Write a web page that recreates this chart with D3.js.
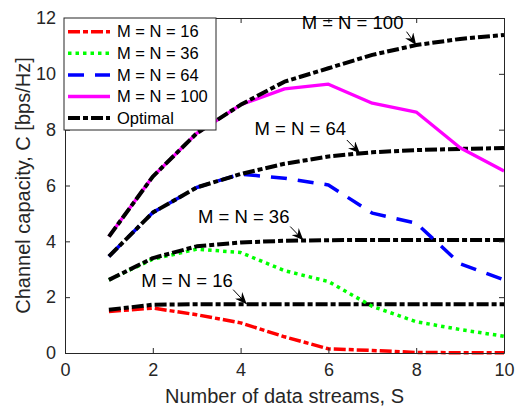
<!DOCTYPE html>
<html>
<head>
<meta charset="utf-8">
<script src="https://cdn.jsdelivr.net/npm/d3@7"></script>
<style>
  body { margin: 0; background: #fff; }
  svg { font-family: "Liberation Sans", Arial, sans-serif; }
</style>
</head>
<body>
<div id="chart"></div>
<script>
// data
const streams = [1, 2, 3, 4, 5, 6, 7, 8, 9, 10];
const cap16 = [1.49, 1.61, 1.37, 1.08, 0.58, 0.15, 0.09, 0.02, 0.01, 0.01];
const cap36 = [2.62, 3.36, 3.72, 3.60, 2.95, 2.56, 1.67, 1.12, 0.84, 0.60];
const cap64 = [3.46, 5.03, 5.93, 6.41, 6.26, 6.02, 5.01, 4.65, 3.20, 2.62];
const cap100 = [4.17, 6.32, 7.87, 8.89, 9.46, 9.63, 8.95, 8.63, 7.35, 6.52];
const opt16 = [1.55, 1.73, 1.75, 1.75, 1.75, 1.75, 1.75, 1.75, 1.75, 1.75];
const opt36 = [2.62, 3.40, 3.82, 3.96, 4.02, 4.04, 4.05, 4.05, 4.05, 4.05];
const opt64 = [3.46, 5.03, 5.93, 6.41, 6.78, 7.04, 7.19, 7.27, 7.31, 7.34];
const opt100 = [4.17, 6.32, 7.87, 8.89, 9.72, 10.20, 10.68, 11.03, 11.25, 11.39];
const xTicks = [0, 2, 4, 6, 8, 10];
const yTicks = [0, 2, 4, 6, 8, 10, 12];
const legendLabels = ['M = N = 16', 'M = N = 36', 'M = N = 64', 'M = N = 100', 'Optimal'];
// annotation text and arrows, in data units
const noteLabels = ['M = N = 100', 'M = N = 64', 'M = N = 36', 'M = N = 16'];
const noteText = [[6.55, 11.61], [5.36, 7.82], [4.07, 4.65], [2.78, 2.36]];
const noteTail = [[7.78, 11.51], [6.42, 7.63], [5.13, 4.53], [3.83, 2.27]];
const noteTip = [[8.0, 11.03], [6.72, 7.15], [5.43, 4.04], [4.14, 1.75]];

const width = 521, height = 409;
const margin = { top: 18, right: 17, bottom: 56, left: 65 };
const innerW = width - margin.left - margin.right;
const innerH = height - margin.top - margin.bottom;
const axisColor = '#262626';

const svg = d3.select('#chart').append('svg')
    .attr('width', width)
    .attr('height', height);

const chart = svg.append('g')
    .attr('transform', `translate(${margin.left}, ${margin.top})`);

const xscale = d3.scaleLinear().domain([0, 10]).range([0, innerW]);
const yscale = d3.scaleLinear().domain([0, 12]).range([innerH, 0]);

// series styles, drawn pairwise so each optimal curve sits on its own series
const styles = {
    red: { color: '#ff0000', dash: '12,3,5,3', w: 3.5 },
    green: { color: '#00ff00', dash: '3.5,4', w: 3.5 },
    blue: { color: '#0000ff', dash: '16,11', w: 3.5 },
    magenta: { color: '#ff00ff', dash: null, w: 3.3 },
    black: { color: '#000000', dash: '12,3,5,3', w: 4 }
};
const drawOrder = [
    [cap16, styles.red], [opt16, styles.black],
    [cap36, styles.green], [opt36, styles.black],
    [cap64, styles.blue], [opt64, styles.black],
    [cap100, styles.magenta], [opt100, styles.black]
];

const line = d3.line()
    .x((d, i) => xscale(streams[i]))
    .y(d => yscale(d));

drawOrder.forEach(([vals, st]) => {
    chart.append('path')
        .datum(vals)
        .attr('d', line)
        .attr('fill', 'none')
        .attr('stroke', st.color)
        .attr('stroke-width', st.w)
        .attr('stroke-dasharray', st.dash)
        .attr('stroke-linejoin', 'round');
});

// axes box with inward ticks on all sides
const tickLen = 5;
chart.append('g')
    .attr('transform', `translate(0, ${innerH})`)
    .call(d3.axisBottom(xscale).tickValues(xTicks).tickSizeInner(-tickLen).tickSizeOuter(0).tickPadding(10));
chart.append('g')
    .call(d3.axisTop(xscale).tickValues(xTicks).tickSizeInner(-tickLen).tickSizeOuter(0).tickFormat(''));
chart.append('g')
    .call(d3.axisLeft(yscale).tickValues(yTicks).tickSizeInner(-tickLen).tickSizeOuter(0).tickPadding(9));
chart.append('g')
    .attr('transform', `translate(${innerW}, 0)`)
    .call(d3.axisRight(yscale).tickValues(yTicks).tickSizeInner(-tickLen).tickSizeOuter(0).tickFormat(''));

chart.selectAll('.domain').attr('stroke', axisColor);
chart.selectAll('.tick line').attr('stroke', axisColor);
chart.selectAll('.tick text')
    .attr('fill', axisColor)
    .style('font-size', '18px')
    .style('font-family', '"Liberation Sans", Arial, sans-serif');

// annotations with arrows (notched head, like matlab's vback2)
svg.append('defs').append('marker')
    .attr('id', 'arrowhead')
    .attr('viewBox', '0 0 12 10')
    .attr('refX', 12).attr('refY', 5)
    .attr('markerWidth', 12).attr('markerHeight', 10)
    .attr('markerUnits', 'userSpaceOnUse')
    .attr('orient', 'auto')
    .append('path')
    .attr('d', 'M0,0 L12,5 L0,10 L4,5 Z')
    .attr('fill', '#000');

noteLabels.forEach((lab, i) => {
    chart.append('text')
        .attr('x', xscale(noteText[i][0]))
        .attr('y', yscale(noteText[i][1]))
        .attr('text-anchor', 'middle')
        .style('font-size', '18.5px')
        .attr('fill', '#000')
        .text(lab);
    chart.append('line')
        .attr('x1', xscale(noteTail[i][0]))
        .attr('y1', yscale(noteTail[i][1]))
        .attr('x2', xscale(noteTip[i][0]))
        .attr('y2', yscale(noteTip[i][1]))
        .attr('stroke', '#000')
        .attr('stroke-width', 1)
        .attr('marker-end', 'url(#arrowhead)');
});

// legend
const legendStyles = [styles.red, styles.green, styles.blue, styles.magenta, styles.black];
const legend = chart.append('g').attr('transform', 'translate(-1, 0)');
legend.append('rect')
    .attr('x', 0).attr('y', 0)
    .attr('width', 152).attr('height', 112)
    .attr('fill', '#fff')
    .attr('stroke', axisColor)
    .attr('stroke-width', 1);
legendLabels.forEach((lab, i) => {
    const y = 13.7 + i * 21.6;
    legend.append('line')
        .attr('x1', 4).attr('x2', 46)
        .attr('y1', y).attr('y2', y)
        .attr('stroke', legendStyles[i].color)
        .attr('stroke-width', legendStyles[i].w)
        .attr('stroke-dasharray', legendStyles[i].dash);
    legend.append('text')
        .attr('x', 53).attr('y', y)
        .attr('dy', '0.35em')
        .style('font-size', '16.5px')
        .attr('fill', '#000')
        .text(lab);
});

// axis labels
svg.append('text')
    .attr('x', margin.left + innerW / 2)
    .attr('y', 403)
    .attr('text-anchor', 'middle')
    .style('font-size', '20px')
    .attr('fill', axisColor)
    .text('Number of data streams, S');

svg.append('text')
    .attr('transform', `translate(30, ${margin.top + innerH / 2}) rotate(-90)`)
    .attr('text-anchor', 'middle')
    .style('font-size', '20px')
    .attr('fill', axisColor)
    .text('Channel capacity, C [bps/Hz]');
</script>
</body>
</html>
